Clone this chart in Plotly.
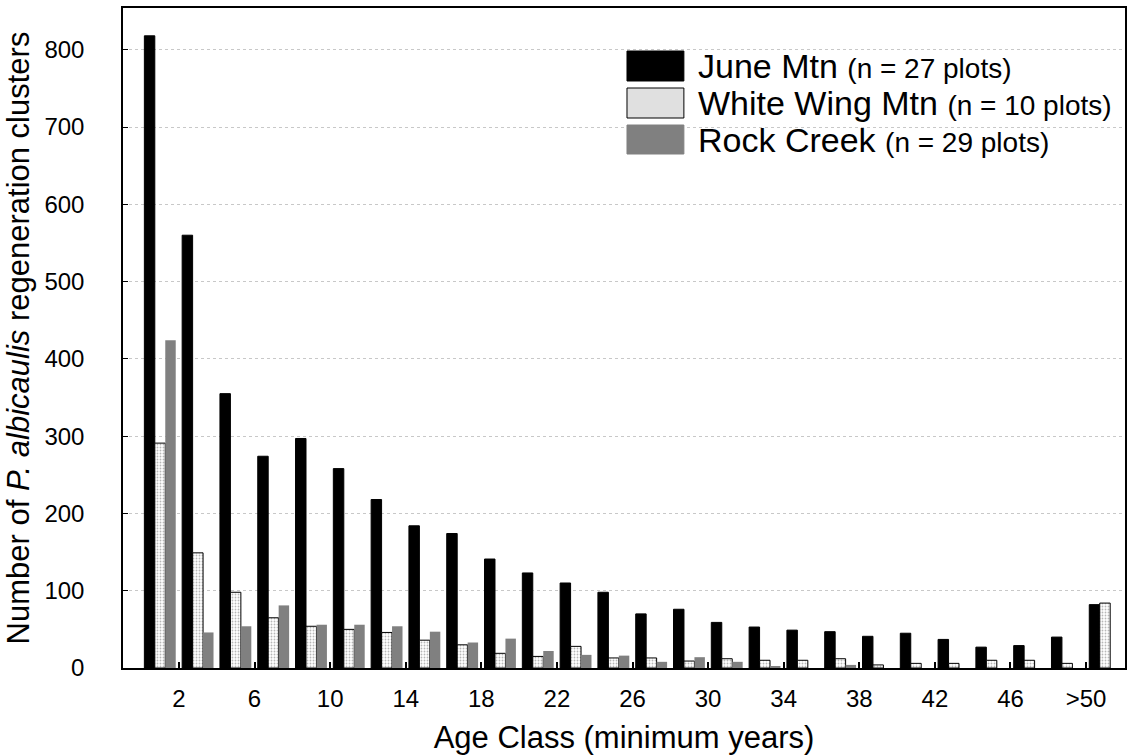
import plotly.graph_objects as go

# ---- data ----
age_class = [1, 3, 5, 7, 9, 11, 13, 15, 17, 19, 21, 23, 25, 27, 29, 31, 33, 35, 37, 39, 41, 43, 45, 47, 49, 51]
june_mtn = [818, 560, 355, 274, 297, 258, 218, 184, 174, 141, 123, 110, 98, 70, 76, 59, 53, 49, 47, 41, 45, 37, 27, 29, 40, 82]
white_wing = [291, 149, 98, 65, 54, 50, 46, 36, 30, 19, 15, 28, 13, 13, 9, 12, 10, 10, 12, 4, 6, 6, 10, 10, 6, 84]
rock_creek = [424, 46, 54, 81, 56, 56, 54, 47, 33, 38, 22, 17, 16, 8, 14, 8, 2, 0, 4, 0, 0, 0, 0, 0, 0, 0]
tick_vals = [2, 6, 10, 14, 18, 22, 26, 30, 34, 38, 42, 46, 50]
tick_text = ["2", "6", "10", "14", "18", "22", "26", "30", "34", "38", "42", "46", ">50"]
series_names = ["June Mtn", "White Wing Mtn", "Rock Creek"]
series_n = ["(n = 27 plots)", "(n = 10 plots)", "(n = 29 plots)"]

FONT = "Arial, Liberation Sans, sans-serif"

fig = go.Figure()
fig.add_trace(go.Bar(x=age_class, y=june_mtn, name=series_names[0],
                     marker=dict(color="#000000", line=dict(color="#000000", width=1))))
fig.add_trace(go.Bar(x=age_class, y=white_wing, name=series_names[1],
                     marker=dict(color="#ffffff", line=dict(color="#000000", width=1),
                                 pattern=dict(shape=".", fgcolor="#707070", bgcolor="#ffffff",
                                              size=3, solidity=0.3))))
fig.add_trace(go.Bar(x=age_class, y=rock_creek, name=series_names[2],
                     marker=dict(color="#808080", line=dict(width=0))))

# plot-area geometry in pixels (for the hand-drawn legend)
L, R, T, B = 123, 1127, 8, 668
def px(x):
    return (x - L) / (R - L)
def py(y):
    return (B - y) / (B - T)

swatch_rows = [(51, 81), (88, 118), (125, 154)]
fills = ["#000000", "#e0e0e0", "#808080"]
lines = ["#000000", "#000000", "#808080"]
shapes = []
annotations = []
for i, (y0, y1) in enumerate(swatch_rows):
    shapes.append(dict(type="rect", xref="paper", yref="paper",
                       x0=px(628), x1=px(685), y0=py(y1), y1=py(y0),
                       fillcolor=fills[i], line=dict(color=lines[i], width=1)))
    annotations.append(dict(xref="paper", yref="paper", x=px(697), y=py((y0 + y1) / 2),
                            xanchor="left", yanchor="middle", showarrow=False,
                            text=f"{series_names[i]} <span style='font-size:28px'>{series_n[i]}</span>",
                            font=dict(family=FONT, size=34, color="#000000")))

fig.update_layout(
    width=1132, height=755,
    margin=dict(l=L, r=1132 - R, t=T, b=755 - B),
    paper_bgcolor="#ffffff", plot_bgcolor="#ffffff",
    barmode="group", bargap=0.17, bargroupgap=0,
    showlegend=False,
    font=dict(family=FONT, color="#000000"),
    shapes=shapes, annotations=annotations,
)
fig.update_xaxes(
    range=[-0.96, 52.06], tickmode="array", tickvals=tick_vals, ticktext=tick_text,
    ticks="inside", ticklen=6, tickwidth=2, tickcolor="#000000",
    tickfont=dict(family=FONT, size=24), ticklabelstandoff=8,
    showline=True, linecolor="#000000", linewidth=2, mirror=True,
    showgrid=False, zeroline=False,
    title=dict(text="Age Class (minimum years)", font=dict(family=FONT, size=31), standoff=16),
)
fig.update_yaxes(
    range=[0, 854], tickmode="array", tickvals=list(range(0, 801, 100)),
    ticks="inside", ticklen=5, tickwidth=1, tickcolor="#000000",
    tickfont=dict(family=FONT, size=24), ticklabelstandoff=32,
    showline=True, linecolor="#000000", linewidth=1.5, mirror=True,
    showgrid=True, gridcolor="#c8c8c8", griddash="dot", gridwidth=1,
    zeroline=False,
    title=dict(text="Number of <i>P. albicaulis</i> regeneration clusters",
               font=dict(family=FONT, size=31), standoff=6),
)

fig.write_html("out.html")
